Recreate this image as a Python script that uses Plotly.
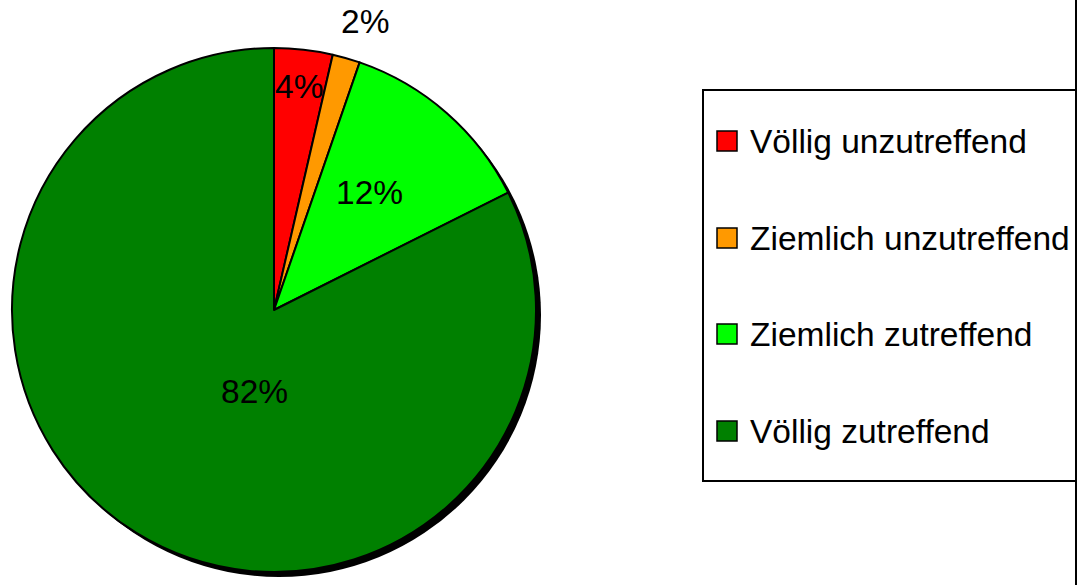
import math
import plotly.graph_objects as go

# ---- data ----
categories = ["Völlig unzutreffend", "Ziemlich unzutreffend", "Ziemlich zutreffend", "Völlig zutreffend"]
values = [3.6, 1.7, 12.3, 82.4]
colors = ["#FF0000", "#FF9900", "#00FF00", "#008000"]

# ---- style / layout ----
W, H = 1077, 585
CX, CY, R = 274, 310, 262          # pie centre / radius in px
SHADOW = (5, 5)
label_radius = [0.86, 1.153, 0.577, 0.319]
label_angle_shift = [0, 1.5, -2, -18]
FONT = "Liberation Sans, Arial, sans-serif"
FS = 33.5

def px_domain(cx, cy, r):
    return dict(x=[(cx - r) / W, (cx + r) / W], y=[1 - (cy + r) / H, 1 - (cy - r) / H])

fig = go.Figure()
# shadow
fig.add_trace(go.Pie(values=[1], labels=["shadow"], marker=dict(colors=["#000000"], line=dict(width=0)),
                     textinfo="none", hoverinfo="skip", showlegend=False, sort=False,
                     domain=px_domain(CX + SHADOW[0], CY + SHADOW[1], R)))
# main pie
fig.add_trace(go.Pie(values=values, labels=categories, marker=dict(colors=colors, line=dict(color="#000000", width=2)),
                     textinfo="none", sort=False, direction="clockwise", rotation=0, showlegend=False,
                     domain=px_domain(CX, CY, R)))

total = sum(values)
cum = 0
annotations = []
for i, v in enumerate(values):
    mid = (cum + v / 2) / total * 360 + label_angle_shift[i]
    cum += v
    a = math.radians(mid)
    x = CX + R * label_radius[i] * math.sin(a)
    y = CY - R * label_radius[i] * math.cos(a)
    annotations.append(dict(x=x / W, y=1 - y / H, xref="paper", yref="paper", showarrow=False,
                            text=f"{round(v / total * 100)}%", font=dict(family=FONT, size=FS, color="#000000"),
                            xanchor="center", yanchor="middle"))

# manual legend
LX0, LX1, LY0, LY1 = 703, 1076, 90, 481
item_y = [141, 238, 334, 431]
shapes = [dict(type="rect", xref="paper", yref="paper", x0=LX0 / W, x1=LX1 / W, y0=1 - LY1 / H, y1=1 - LY0 / H,
               line=dict(color="#000000", width=2), fillcolor="rgba(0,0,0,0)"),
          dict(type="line", xref="paper", yref="paper", x0=1076 / W, x1=1076 / W, y0=0, y1=1,
               line=dict(color="#000000", width=2))]
for i, cat in enumerate(categories):
    yc = item_y[i]
    shapes.append(dict(type="rect", xref="paper", yref="paper", x0=717 / W, x1=737 / W,
                       y0=1 - (yc + 10) / H, y1=1 - (yc - 10) / H,
                       line=dict(color="#000000", width=1.5), fillcolor=colors[i]))
    annotations.append(dict(x=748 / W, y=1 - yc / H, xref="paper", yref="paper", showarrow=False,
                            text=cat, xanchor="left", yanchor="middle",
                            font=dict(family=FONT, size=FS, color="#000000")))

fig.update_layout(width=W, height=H, margin=dict(l=0, r=0, t=0, b=0), paper_bgcolor="#FFFFFF",
                  plot_bgcolor="#FFFFFF", showlegend=False, annotations=annotations, shapes=shapes)
fig.write_html("out.html", config={"displayModeBar": False},
               post_script="document.body.style.margin='0';document.body.style.overflow='hidden';")
